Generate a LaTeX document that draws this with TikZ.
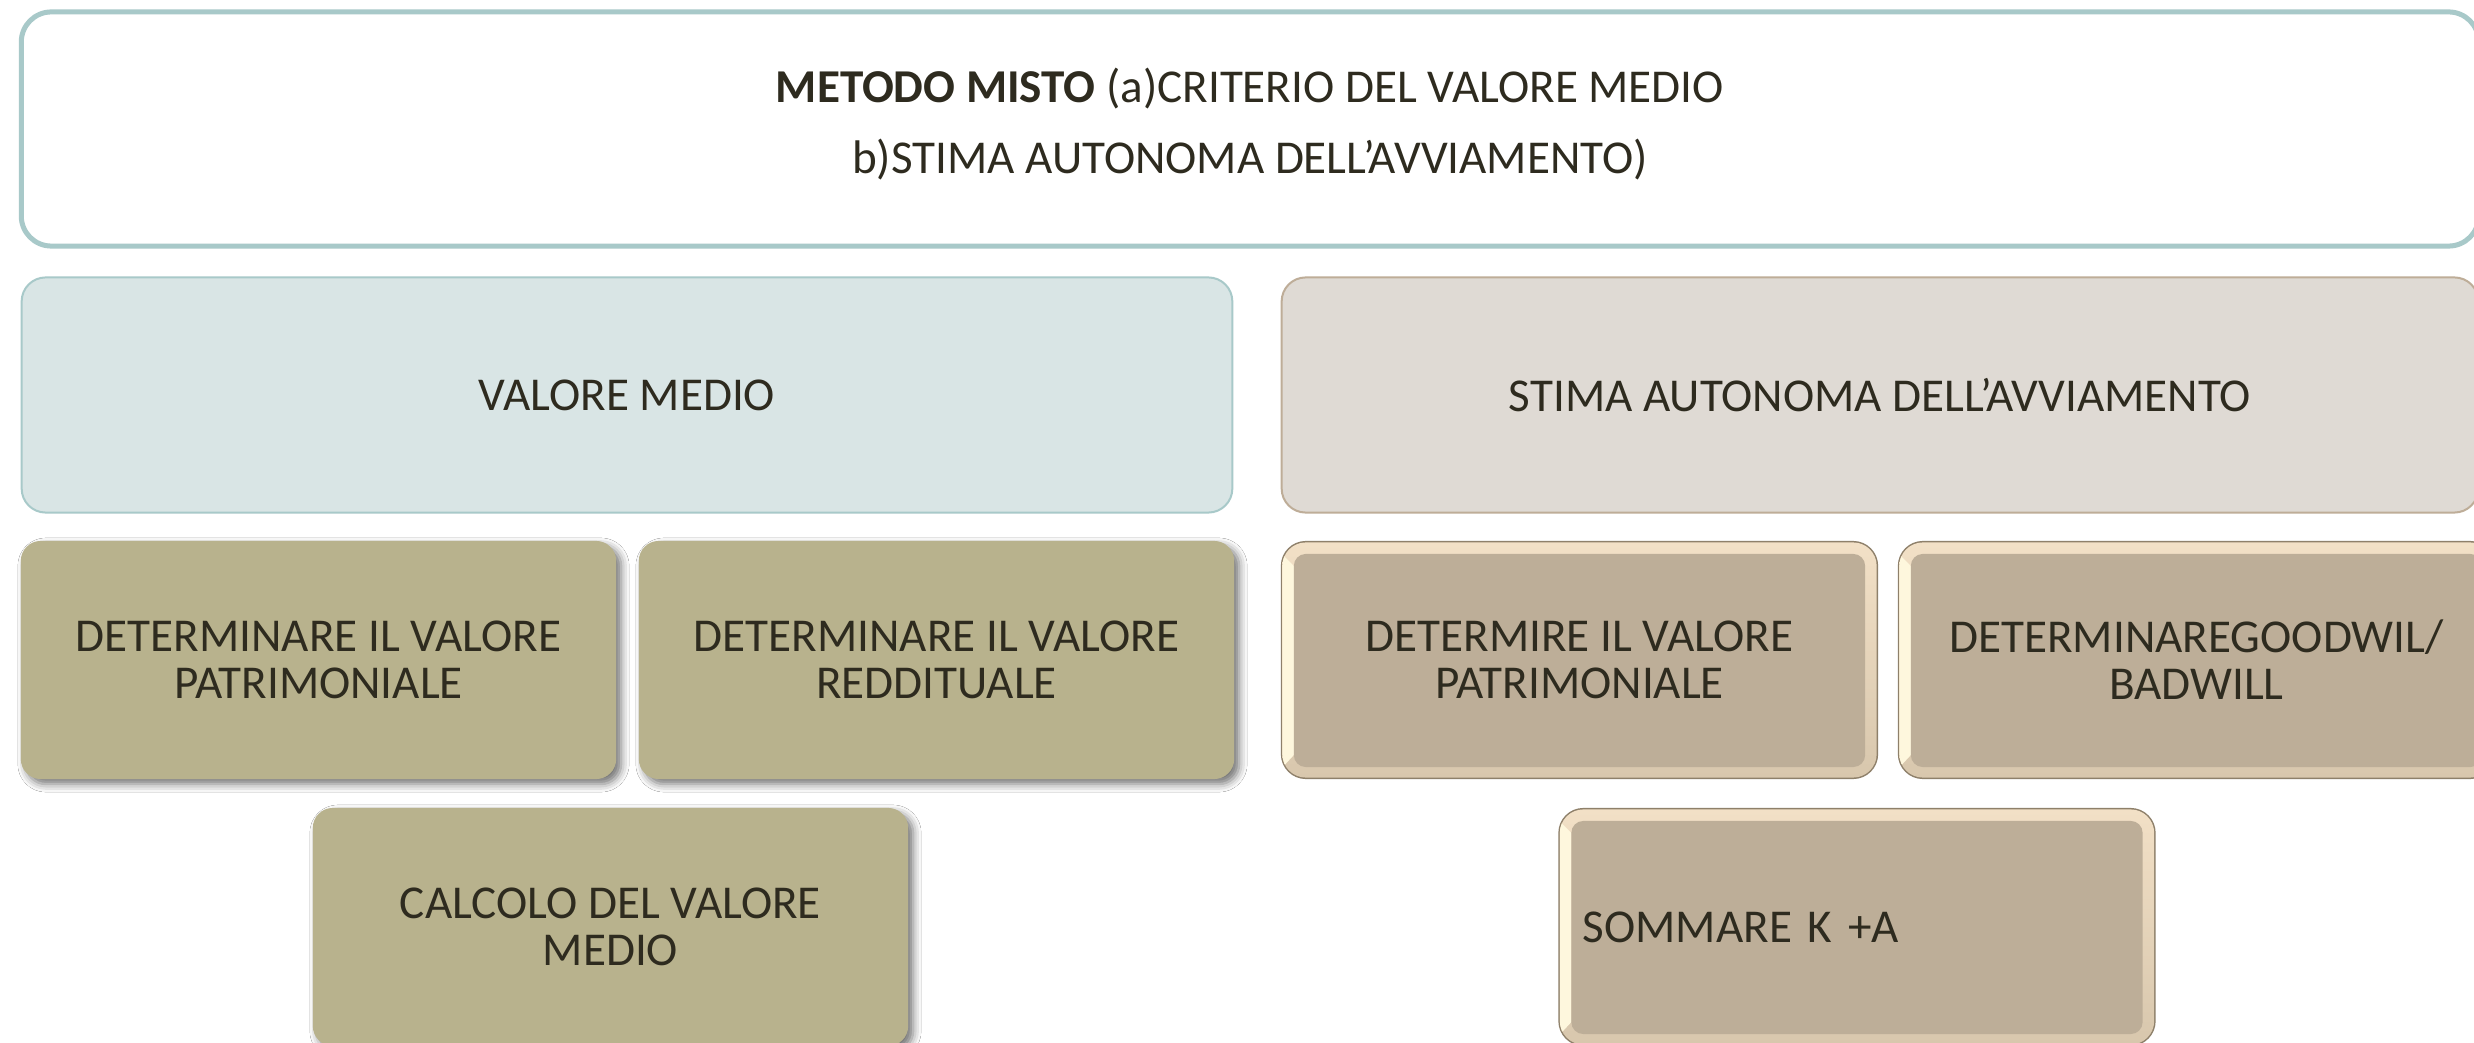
\documentclass[tikz,border=0pt]{standalone}
\usepackage{fontspec}
\setmainfont{Carlito}
\usetikzlibrary{shadows.blur,backgrounds}
\definecolor{tealline}{HTML}{A8C9C9}
\definecolor{vmfill}{HTML}{D9E5E5}
\definecolor{safill}{HTML}{DFDAD4}
\definecolor{saline}{HTML}{BEAD98}
\definecolor{olivefill}{HTML}{B8B28D}
\definecolor{bevdark}{HTML}{8E806A}
\definecolor{bandtop}{HTML}{F2E0C6}
\definecolor{bandbot}{HTML}{D8C7AD}
\definecolor{bandleft}{HTML}{FEF7DD}
\definecolor{bevfill}{HTML}{BDAE98}
\definecolor{txtcol}{HTML}{2E2B1F}
\newcommand\bevelbox[1]{%
  \fill[bevdark, rounded corners=0.25cm] (#1.north west) rectangle (#1.south east);
  \shade[top color=bandtop, bottom color=bandbot, rounded corners=0.235cm]
    ([shift={(1.5,1.5)}]#1.north west) rectangle ([shift={(-1.5,-1.5)}]#1.south east);
  \begin{scope}
    \clip ([shift={(0,12)}]#1.north west) -- ([shift={(13,25)}]#1.north west)
      -- ([shift={(13,-24)}]#1.south west) -- ([shift={(0,-10)}]#1.south west) -- cycle;
    \fill[bandleft, rounded corners=0.235cm]
      ([shift={(1.5,1.5)}]#1.north west) rectangle ([shift={(-1.5,-1.5)}]#1.south east);
  \end{scope}
  \fill[bevfill, rounded corners=0.12cm]
    ([shift={(13,13)}]#1.north west) rectangle ([shift={(-13,-12)}]#1.south east);}
\begin{document}
\begin{tikzpicture}[x=0.01cm, y=-0.01cm,
  txt/.style={font=\fontsize{13.4}{13.3}\selectfont, text=txtcol, align=center, inner sep=0pt, outer sep=0pt},
  topbox/.style={txt, draw=tealline, line width=0.05cm, fill=white, rounded corners=0.3cm,
    minimum width=24.56cm, minimum height=2.34cm, text depth=0.16cm},
  vmbox/.style={txt, draw=tealline, line width=0.02cm, fill=vmfill, rounded corners=0.24cm,
    minimum width=12.1cm, minimum height=2.35cm},
  sabox/.style={txt, draw=saline, line width=0.02cm, fill=safill, rounded corners=0.24cm,
    minimum width=11.96cm, minimum height=2.35cm},
  olivebox/.style={txt, fill=olivefill, rounded corners=0.2cm,
    blur shadow={shadow xshift=0.05cm, shadow yshift=-0.05cm, shadow blur radius=0.08cm, shadow opacity=55},
    minimum width=5.95cm, minimum height=2.38cm},
  bevbox/.style={txt, minimum width=5.97cm, minimum height=2.38cm}
]
\useasboundingbox (0,0) rectangle (2474,1043);
\clip (0,0) rectangle (2474,1043);

\node[topbox] (title) at (1250,129) {\textbf{METODO MISTO} (a)CRITERIO DEL VALORE MEDIO\\[6.9pt]b)STIMA AUTONOMA DELL’AVVIAMENTO)};

\node[vmbox] (vm) at (627,395) {VALORE MEDIO};
\node[sabox] (sa) at (1880,395) {STIMA AUTONOMA DELL’AVVIAMENTO};

\node[olivebox] (vp) at (318.5,660) {DETERMINARE IL VALORE\\PATRIMONIALE};
\node[olivebox] (vr) at (936.5,660) {DETERMINARE IL VALORE\\REDDITUALE};
\node[olivebox] (cm) at (610.5,927) {CALCOLO DEL VALORE\\MEDIO};

\node[bevbox] (dp) at (1579.5,660) {DETERMIRE IL VALORE\\PATRIMONIALE};
\node[bevbox] (gw) at (2196.5,660) {DETERMINAREGOODWIL/\\BADWILL};
\node[bevbox, text width=5.48cm, align=left, inner xsep=0.24cm] (sk) at (1857,927) {SOMMARE K +A};

\begin{scope}[on background layer]
  \fill[white] (0,0) rectangle (2474,1043);
  \bevelbox{dp}
  \bevelbox{gw}
  \bevelbox{sk}
\end{scope}
\end{tikzpicture}
\end{document}
